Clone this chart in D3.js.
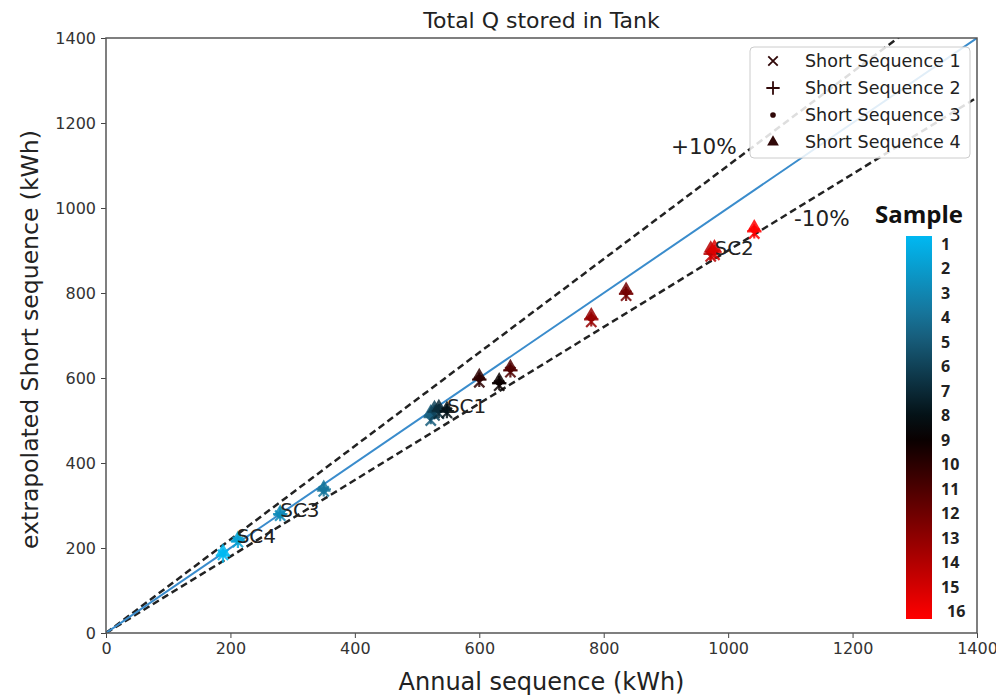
<!DOCTYPE html>
<html>

<head>
    <meta charset="utf-8">
    <script src="https://d3js.org/d3.v7.min.js"></script>
    <style>
        * {
            margin: 0;
            padding: 0;
        }

        body {
            background: #fff;
        }

        text {
            font-family: "DejaVu Sans", sans-serif;
        }
    </style>
</head>

<body>
    <div id="chart"></div>
</body>
<script>
    // sample numbers and the annual-sequence value of each sample (kWh)
    let samples = [1, 2, 3, 4, 5, 6, 7, 8, 9, 10, 11, 12, 13, 14, 15, 16];
    let annual = [188, 212, 280, 350, 522, 528, 535, 548, 632, 600, 650, 836, 780, 972, 978, 1042];

    // extrapolated short sequence values, one list per short sequence
    let seq1 = [184, 214, 276, 333, 500, 512, 516, 518, 582, 590, 614, 794, 732, 886, 890, 940];
    let seq2 = [182, 217, 280, 338, 508, 520, 522, 522, 588, 596, 618, 798, 738, 892, 896, 945];
    let seq3 = [188, 220, 278, 336, 512, 525, 528, 525, 590, 600, 622, 802, 742, 898, 900, 950];
    let seq4 = [192, 222, 284, 342, 520, 530, 532, 528, 595, 605, 626, 808, 748, 905, 908, 955];

    let seqNames = ["Short Sequence 1", "Short Sequence 2", "Short Sequence 3", "Short Sequence 4"];
    let xTicks = [0, 200, 400, 600, 800, 1000, 1200, 1400];
    let yTicks = [0, 200, 400, 600, 800, 1000, 1200, 1400];

    // short-cut labels: [text, x, y]
    let scLabels = [["SC1", 548, 518], ["SC2", 978, 890], ["SC3", 280, 272], ["SC4", 210, 212]];

    let margin = { top: 38, right: 19, bottom: 62, left: 106 };
    let W = 996, H = 695;
    let width = W - margin.left - margin.right,
        height = H - margin.top - margin.bottom;

    let svg0 = d3.select("#chart").append("svg")
        .attr("width", W)
        .attr("height", H);

    let svg = svg0.append("g")
        .attr("transform", "translate(" + margin.left + "," + margin.top + ")");

    let x = d3.scaleLinear().domain([0, 1400]).range([0, width]);
    let y = d3.scaleLinear().domain([0, 1400]).range([height, 0]);

    let color = d3.scaleLinear()
        .domain([1, 4.5, 8.7, 16])
        .range(["#00b8f2", "#1a6a8c", "#000000", "#ff0000"]);

    svg.append("clipPath").attr("id", "clip")
        .append("rect").attr("width", width).attr("height", height);

    // axes
    svg.append("g")
        .attr("transform", "translate(0," + height + ")")
        .call(d3.axisBottom(x).tickValues(xTicks).tickFormat(d3.format("d")).tickSize(5).tickPadding(5))
        .call(g => g.select(".domain").remove())
        .call(g => g.selectAll("line").attr("stroke", "#444"))
        .call(g => g.selectAll("text").attr("font-size", 16).attr("fill", "#333")
            .style("font-family", "DejaVu Sans"));

    svg.append("g")
        .call(d3.axisLeft(y).tickValues(yTicks).tickFormat(d3.format("d")).tickSize(5).tickPadding(5))
        .call(g => g.select(".domain").remove())
        .call(g => g.selectAll("line").attr("stroke", "#444"))
        .call(g => g.selectAll("text").attr("font-size", 16).attr("fill", "#333")
            .style("font-family", "DejaVu Sans"));

    // reference lines
    let lines = svg.append("g").attr("clip-path", "url(#clip)");
    lines.append("line")
        .attr("x1", x(0)).attr("y1", y(0)).attr("x2", x(1400)).attr("y2", y(1400 * 1.1))
        .attr("stroke", "#222").attr("stroke-width", 2.5).attr("stroke-dasharray", "7,4");
    lines.append("line")
        .attr("x1", x(0)).attr("y1", y(0)).attr("x2", x(1400)).attr("y2", y(1400 * 0.9))
        .attr("stroke", "#222").attr("stroke-width", 2.5).attr("stroke-dasharray", "7,4");
    lines.append("line")
        .attr("x1", x(0)).attr("y1", y(0)).attr("x2", x(1400)).attr("y2", y(1400))
        .attr("stroke", "#3a8ccc").attr("stroke-width", 2);

    // points
    let seqs = [seq1, seq2, seq3, seq4];
    let shapes = [d3.symbolTimes, d3.symbolPlus, d3.symbolCircle, d3.symbolTriangle];
    let sizes = [70, 70, 40, 85];
    let pts = [];
    samples.forEach((s, i) => {
        seqs.forEach((q, k) => {
            pts.push({ s: s, xv: annual[i], yv: q[i], k: k });
        });
    });

    svg.append("g").selectAll("path")
        .data(pts)
        .enter()
        .append("path")
        .attr("transform", d => "translate(" + x(d.xv) + "," + y(d.yv) + ")")
        .attr("d", d => d3.symbol().type(shapes[d.k]).size(sizes[d.k])())
        .attr("fill", d => d.k >= 2 ? color(d.s) : "none")
        .attr("stroke", d => d.k < 2 ? color(d.s) : "none")
        .attr("stroke-width", 2.2)
        .attr("opacity", 0.85);

    // SC labels
    svg.selectAll(".sc")
        .data(scLabels)
        .enter()
        .append("text")
        .attr("class", "sc")
        .attr("x", d => x(d[1]))
        .attr("y", d => y(d[2]))
        .attr("font-size", 20)
        .attr("fill", "#222")
        .text(d => d[0]);

    svg.append("text").attr("x", x(908)).attr("y", y(1126))
        .attr("font-size", 21.5).attr("fill", "#222").text("+10%");
    svg.append("text").attr("x", x(1106)).attr("y", y(958))
        .attr("font-size", 21.5).attr("fill", "#222").text("-10%");

    // frame
    svg.append("rect")
        .attr("width", width).attr("height", height)
        .attr("fill", "none").attr("stroke", "#555").attr("stroke-width", 1.5);

    // legend
    let lg = svg.append("g").attr("transform", "translate(" + (width - 227) + ",9)");
    lg.append("rect")
        .attr("width", 220).attr("height", 111).attr("rx", 4)
        .attr("fill", "#fff").attr("fill-opacity", 0.85)
        .attr("stroke", "#ccc");
    seqNames.forEach((n, k) => {
        let yy = 14 + k * 27;
        lg.append("path")
            .attr("transform", "translate(23," + yy + ")")
            .attr("d", d3.symbol().type(shapes[k]).size(k == 2 ? 25 : 60)())
            .attr("fill", k >= 2 ? "#300808" : "none")
            .attr("stroke", k < 2 ? "#300808" : "none")
            .attr("stroke-width", 1.8);
        lg.append("text")
            .attr("x", 55).attr("y", yy + 6)
            .attr("font-size", 17.5).attr("fill", "#222")
            .text(n);
    });

    // colorbar
    let cb = svg0.append("g");
    let grad = svg0.append("defs").append("linearGradient")
        .attr("id", "cbar").attr("x1", 0).attr("y1", 0).attr("x2", 0).attr("y2", 1);
    samples.forEach((s, i) => {
        grad.append("stop")
            .attr("offset", i / (samples.length - 1))
            .attr("stop-color", color(s));
    });
    let cy = d3.scaleLinear().domain([1, 16]).range([244, 611]);
    cb.append("rect")
        .attr("x", 906).attr("y", 236).attr("width", 26).attr("height", 383)
        .attr("fill", "url(#cbar)");
    cb.selectAll(".cbl")
        .data(samples)
        .enter()
        .append("text")
        .attr("class", "cbl")
        .attr("x", d => d == 16 ? 947 : 941)
        .attr("y", d => cy(d) + 6)
        .attr("font-size", 16)
        .attr("font-weight", "bold")
        .style("font-family", "Open Sans")
        .attr("fill", "#222")
        .text(d => d);
    cb.append("text")
        .attr("x", 919).attr("y", 223)
        .attr("text-anchor", "middle")
        .attr("font-size", 24).attr("font-weight", "bold")
        .style("font-family", "Open Sans")
        .attr("fill", "#111")
        .text("Sample");

    // title and axis labels
    svg0.append("text")
        .attr("x", margin.left + width / 2).attr("y", 28)
        .attr("text-anchor", "middle").attr("font-size", 22).attr("fill", "#222")
        .text("Total Q stored in Tank");
    svg0.append("text")
        .attr("x", margin.left + width / 2).attr("y", 690)
        .attr("text-anchor", "middle").attr("font-size", 24).attr("fill", "#222")
        .text("Annual sequence (kWh)");
    svg0.append("text")
        .attr("transform", "translate(38," + (margin.top + height / 2 + 4) + ") rotate(-90)")
        .attr("text-anchor", "middle").attr("font-size", 23.5).attr("fill", "#222")
        .text("extrapolated Short sequence (kWh)");
</script>

</html>
